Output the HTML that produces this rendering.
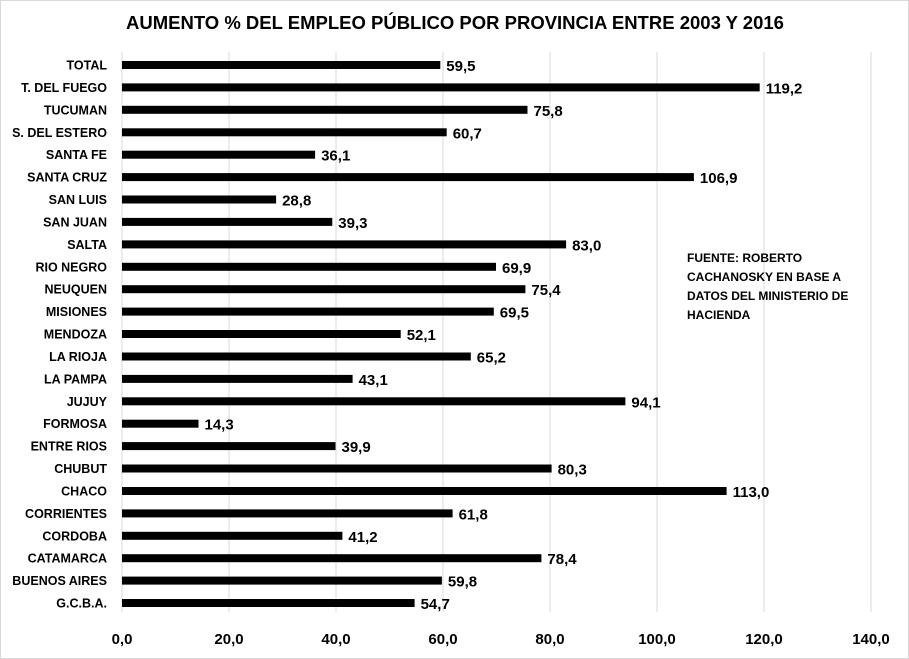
<!DOCTYPE html><html><head><meta charset="utf-8"><style>
body{margin:0;background:#fff}
svg{display:block;font-family:"Liberation Sans",Arial,sans-serif;font-weight:bold}
</style></head><body>
<svg width="909" height="659" viewBox="0 0 909 659" xmlns="http://www.w3.org/2000/svg">
<rect x="0.5" y="0.5" width="908" height="658" fill="#fff" stroke="#d9d9d9"/>
<text x="455" y="29" text-anchor="middle" font-size="18.5">AUMENTO % DEL EMPLEO PÚBLICO POR PROVINCIA ENTRE 2003 Y 2016</text>
<g stroke="#d9d9d9" stroke-width="1">
<line x1="122" y1="52" x2="122" y2="612"/><line x1="229" y1="52" x2="229" y2="612"/><line x1="336" y1="52" x2="336" y2="612"/><line x1="443" y1="52" x2="443" y2="612"/><line x1="550" y1="52" x2="550" y2="612"/><line x1="657" y1="52" x2="657" y2="612"/><line x1="764" y1="52" x2="764" y2="612"/><line x1="871" y1="52" x2="871" y2="612"/>
</g>
<g font-size="15" text-anchor="middle">
<text x="122" y="644">0,0</text><text x="229" y="644">20,0</text><text x="336" y="644">40,0</text><text x="443" y="644">60,0</text><text x="550" y="644">80,0</text><text x="657" y="644">100,0</text><text x="764" y="644">120,0</text><text x="871" y="644">140,0</text>
</g>
<g font-size="12.5" text-anchor="end">
<text x="107" y="69.5">TOTAL</text>
<text x="107" y="91.9">T. DEL FUEGO</text>
<text x="107" y="114.3">TUCUMAN</text>
<text x="107" y="136.8">S. DEL ESTERO</text>
<text x="107" y="159.2">SANTA FE</text>
<text x="107" y="181.6">SANTA CRUZ</text>
<text x="107" y="204">SAN LUIS</text>
<text x="107" y="226.4">SAN JUAN</text>
<text x="107" y="248.9">SALTA</text>
<text x="107" y="271.3">RIO NEGRO</text>
<text x="107" y="293.7">NEUQUEN</text>
<text x="107" y="316.1">MISIONES</text>
<text x="107" y="338.5">MENDOZA</text>
<text x="107" y="361">LA RIOJA</text>
<text x="107" y="383.4">LA PAMPA</text>
<text x="107" y="405.8">JUJUY</text>
<text x="107" y="428.2">FORMOSA</text>
<text x="107" y="450.6">ENTRE RIOS</text>
<text x="107" y="473">CHUBUT</text>
<text x="107" y="495.5">CHACO</text>
<text x="107" y="517.9">CORRIENTES</text>
<text x="107" y="540.3">CORDOBA</text>
<text x="107" y="562.7">CATAMARCA</text>
<text x="107" y="585.1">BUENOS AIRES</text>
<text x="107" y="607.5">G.C.B.A.</text>
</g>
<g fill="#000">
<rect x="122" y="61" width="318.3" height="8"/>
<rect x="122" y="83.4" width="637.7" height="8"/>
<rect x="122" y="105.8" width="405.5" height="8"/>
<rect x="122" y="128.3" width="324.7" height="8"/>
<rect x="122" y="150.7" width="193.1" height="8"/>
<rect x="122" y="173.1" width="571.9" height="8"/>
<rect x="122" y="195.5" width="154.1" height="8"/>
<rect x="122" y="217.9" width="210.3" height="8"/>
<rect x="122" y="240.4" width="444.1" height="8"/>
<rect x="122" y="262.8" width="374" height="8"/>
<rect x="122" y="285.2" width="403.4" height="8"/>
<rect x="122" y="307.6" width="371.8" height="8"/>
<rect x="122" y="330" width="278.7" height="8"/>
<rect x="122" y="352.5" width="348.8" height="8"/>
<rect x="122" y="374.9" width="230.6" height="8"/>
<rect x="122" y="397.3" width="503.4" height="8"/>
<rect x="122" y="419.7" width="76.5" height="8"/>
<rect x="122" y="442.1" width="213.5" height="8"/>
<rect x="122" y="464.5" width="429.6" height="8"/>
<rect x="122" y="487" width="604.6" height="8"/>
<rect x="122" y="509.4" width="330.6" height="8"/>
<rect x="122" y="531.8" width="220.4" height="8"/>
<rect x="122" y="554.2" width="419.4" height="8"/>
<rect x="122" y="576.6" width="319.9" height="8"/>
<rect x="122" y="599" width="292.6" height="8"/>
</g>
<g font-size="15">
<text x="446.3" y="71">59,5</text>
<text x="765.7" y="93.4">119,2</text>
<text x="533.5" y="115.8">75,8</text>
<text x="452.7" y="138.3">60,7</text>
<text x="321.1" y="160.7">36,1</text>
<text x="699.9" y="183.1">106,9</text>
<text x="282.1" y="205.5">28,8</text>
<text x="338.3" y="227.9">39,3</text>
<text x="572.1" y="250.4">83,0</text>
<text x="502" y="272.8">69,9</text>
<text x="531.4" y="295.2">75,4</text>
<text x="499.8" y="317.6">69,5</text>
<text x="406.7" y="340">52,1</text>
<text x="476.8" y="362.5">65,2</text>
<text x="358.6" y="384.9">43,1</text>
<text x="631.4" y="407.3">94,1</text>
<text x="204.5" y="429.7">14,3</text>
<text x="341.5" y="452.1">39,9</text>
<text x="557.6" y="474.5">80,3</text>
<text x="732.6" y="497">113,0</text>
<text x="458.6" y="519.4">61,8</text>
<text x="348.4" y="541.8">41,2</text>
<text x="547.4" y="564.2">78,4</text>
<text x="447.9" y="586.6">59,8</text>
<text x="420.6" y="609">54,7</text>
</g>
<g font-size="12">
<text x="687" y="262">FUENTE: ROBERTO</text>
<text x="687" y="281">CACHANOSKY EN BASE A</text>
<text x="687" y="300">DATOS DEL MINISTERIO DE</text>
<text x="687" y="319">HACIENDA</text>
</g>
</svg></body></html>
